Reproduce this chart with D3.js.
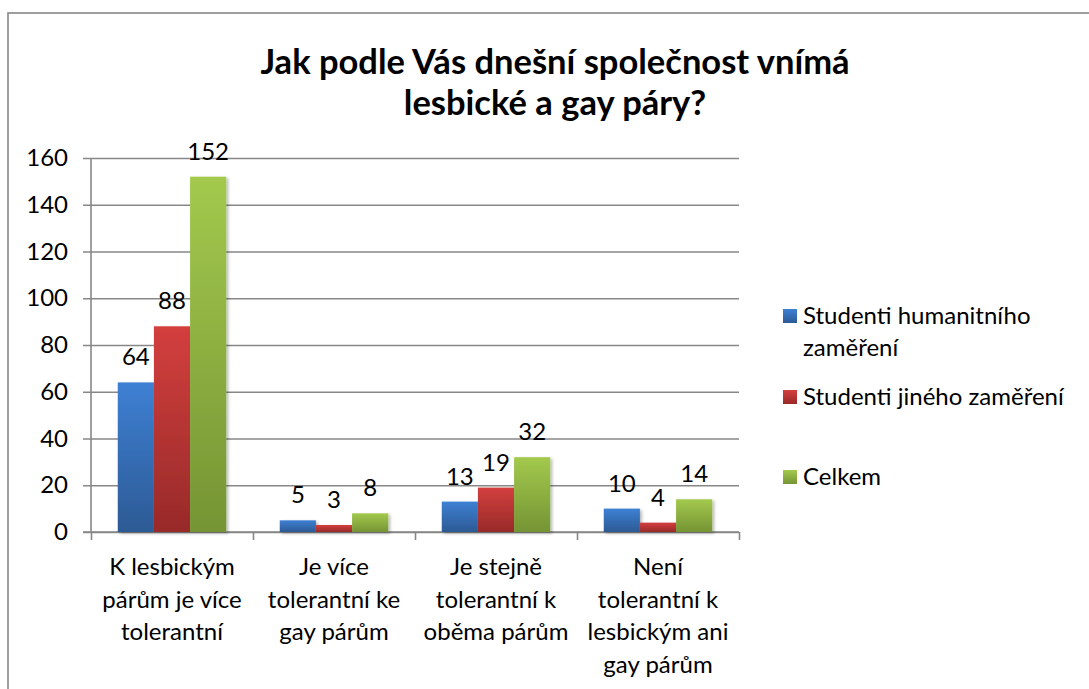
<!DOCTYPE html>
<html>
<head>
<meta charset="utf-8">
<script src="https://cdn.jsdelivr.net/npm/d3@7"></script>
<style>
  html, body { margin: 0; padding: 0; background: #fff; }
  svg { display: block; font-family: Lato, "Open Sans", sans-serif; }
</style>
</head>
<body>
<svg id="chart" width="1089" height="689"></svg>
<script>
// ---- data ----
const titleLines = ["Jak podle Vás dnešní společnost vnímá", "lesbické a gay páry?"];
const categories = [
  ["K lesbickým", "párům je více", "tolerantní"],
  ["Je více", "tolerantní ke", "gay párům"],
  ["Je stejně", "tolerantní k", "oběma párům"],
  ["Není", "tolerantní k", "lesbickým ani", "gay párům"]
];
const seriesNames = ["Studenti humanitního zaměření", "Studenti jiného zaměření", "Celkem"];
const legendLines = [["Studenti humanitního", "zaměření"], ["Studenti jiného zaměření"], ["Celkem"]];
const humanitni = [64, 5, 13, 10];
const jine = [88, 3, 19, 4];
const celkem = [152, 8, 32, 14];
const yTicks = [0, 20, 40, 60, 80, 100, 120, 140, 160];

const seriesValues = [humanitni, jine, celkem];
const gradColors = [["#3E80D4", "#2C5A94"], ["#D33F3E", "#982A29"], ["#A3C94D", "#759434"]];

const svg = d3.select("#chart");
const defs = svg.append("defs");
gradColors.forEach((c, i) => {
  const g = defs.append("linearGradient").attr("id", "g" + i)
    .attr("x1", 0).attr("y1", 0).attr("x2", 0).attr("y2", 1);
  g.append("stop").attr("offset", "0%").attr("stop-color", c[0]);
  g.append("stop").attr("offset", "100%").attr("stop-color", c[1]);
});
const f = defs.append("filter").attr("id", "shadow")
  .attr("x", "-20%").attr("y", "-5%").attr("width", "150%").attr("height", "120%");
f.append("feDropShadow").attr("dx", 2).attr("dy", 1.5).attr("stdDeviation", 1.6)
  .attr("flood-color", "#000").attr("flood-opacity", 0.28);

// outer border
svg.append("rect").attr("x", 8).attr("y", 13).attr("width", 1200).attr("height", 800)
  .attr("fill", "none").attr("stroke", "#878787").attr("stroke-width", 1.6);

// title
svg.append("text").attr("text-anchor", "middle").attr("font-weight", "bold")
  .attr("font-size", 34.5).attr("fill", "#000")
  .selectAll("tspan").data(titleLines).join("tspan")
  .attr("x", 555).attr("y", (d, i) => 74 + i * 41).text(d => d);

const x0 = 91, x1 = 739, yBottom = 532, yTop = 158;
const y = d3.scaleLinear().domain([0, 160]).range([yBottom, yTop]);
const xCat = d3.scaleBand().domain(d3.range(categories.length)).range([x0, x1]).padding(0);
const xSer = d3.scaleBand().domain(d3.range(seriesNames.length)).range([0, xCat.bandwidth()])
  .paddingInner(0).paddingOuter(0.74);

const FS = 24;

// gridlines
const yAxis = d3.axisLeft(y).tickValues(yTicks).tickSize(8).tickPadding(15).tickFormat(d3.format("d"));
const gy = svg.append("g").attr("transform", `translate(${x0},0)`).call(yAxis);
gy.select(".domain").attr("stroke", "#878787").attr("stroke-width", 1.6).attr("d", `M0,${yTop}V${yBottom}`);
gy.selectAll(".tick line").attr("stroke", "#878787").attr("stroke-width", 1.6)
  .attr("x1", -8).attr("x2", x1 - x0);
gy.selectAll(".tick text").attr("font-size", FS).attr("fill", "#000")
  .attr("font-family", "Lato, sans-serif");

// x axis
const xAxis = d3.axisBottom(d3.scaleLinear().domain([0, categories.length]).range([x0, x1]))
  .tickValues(d3.range(categories.length + 1)).tickSize(8).tickFormat("");
const gx = svg.append("g").attr("transform", `translate(0,${yBottom})`).call(xAxis);
gx.select(".domain").attr("stroke", "#878787").attr("stroke-width", 1.6).attr("d", `M${x0 - 8},0H${x1}`);
gx.selectAll(".tick line").attr("stroke", "#878787").attr("stroke-width", 1.6);

// category labels
categories.forEach((lines, ci) => {
  svg.append("text").attr("text-anchor", "middle").attr("font-size", FS).attr("fill", "#000")
    .selectAll("tspan").data(lines).join("tspan")
    .attr("x", xCat(ci) + xCat.bandwidth() / 2)
    .attr("y", (d, i) => 575 + i * 32.7).text(d => d);
});

// bars
seriesValues.forEach((vals, si) => {
  svg.append("g").attr("filter", "url(#shadow)").selectAll("rect").data(vals).join("rect")
    .attr("x", (d, i) => xCat(i) + xSer(si))
    .attr("y", d => y(d))
    .attr("width", xSer.bandwidth())
    .attr("height", d => yBottom - y(d))
    .attr("fill", `url(#g${si})`);
});
// data labels
seriesValues.forEach((vals, si) => {
  svg.append("g").selectAll("text").data(vals).join("text")
    .attr("x", (d, i) => xCat(i) + xSer(si) + xSer.bandwidth() / 2)
    .attr("y", d => y(d) - 17)
    .attr("text-anchor", "middle").attr("font-size", FS).attr("fill", "#000")
    .text(d => d);
});

// legend
const legendY = [316, 397, 477];
legendLines.forEach((lines, i) => {
  svg.append("rect").attr("x", 783).attr("y", legendY[i] - 7).attr("width", 14).attr("height", 14)
    .attr("fill", `url(#g${i})`);
  svg.append("text").attr("font-size", FS).attr("fill", "#000")
    .selectAll("tspan").data(lines).join("tspan")
    .attr("x", 803).attr("y", (d, j) => legendY[i] + 8 + j * 32).text(d => d);
});
</script>
</body>
</html>
